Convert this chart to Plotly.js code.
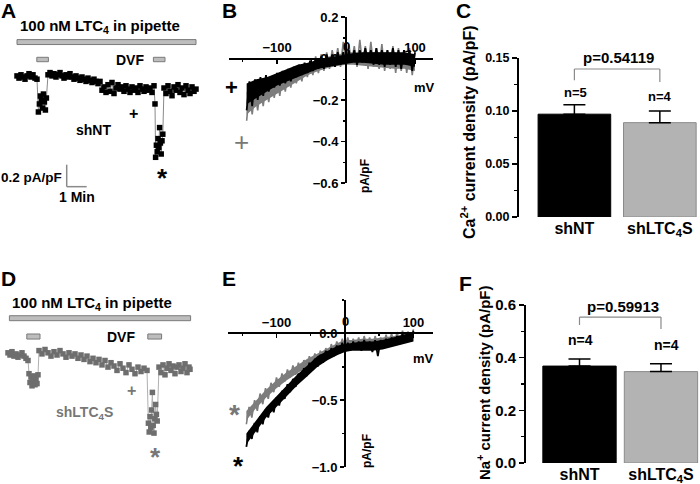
<!DOCTYPE html>
<html><head><meta charset="utf-8">
<script src="https://cdn.plot.ly/plotly-3.0.1.min.js"></script>
<style>html,body{margin:0;padding:0;background:#fff}#chart{width:700px;height:484px}</style>
</head><body><div id="chart"></div>
<script>
// ---------- Panel A (shNT time course; min, pA/pF) ----------
const aTime = [0.85,0.95,1.05,1.15,1.25,1.35,1.45,1.55,1.65,1.75,1.85,
  1.92,1.97,2.02,2.07,2.12,2.17,2.22,2.27,2.32,
  2.4,2.5,2.6,2.7,2.8,2.9,3.0,3.1,3.2,3.3,3.4,3.5,3.6,3.7,3.8,3.9,4.0,4.1,4.2,4.3,4.4,4.5,4.6,4.7,4.8,4.9,5.0,
  5.1,5.2,5.3,5.4,5.5,5.6,5.7,5.8,5.9,6.0,6.1,6.2,6.3,6.4,6.5,6.6,6.7,6.8,6.9,7.0,7.1,7.2,7.3,7.4,7.5,7.6,7.7,
  7.75,7.78,7.82,7.86,7.9,7.94,7.98,8.02,8.06,8.10,8.14,
  8.2,8.3,8.4,8.5,8.6,8.7,8.8,8.9,9.0,9.1,9.2,9.3,9.4,9.5,9.6,9.7,9.8];
const aCurrent = [-0.09,-0.11,-0.08,-0.10,-0.12,-0.09,-0.07,-0.10,-0.08,-0.11,-0.12,
  -0.418,-0.345,-0.273,-0.309,-0.382,-0.255,-0.327,-0.40,-0.291,
  -0.08,-0.06,-0.09,-0.07,-0.10,-0.08,-0.06,-0.09,-0.11,-0.08,-0.10,-0.07,-0.10,-0.12,-0.09,-0.11,-0.13,-0.10,-0.12,-0.14,-0.11,-0.13,-0.15,-0.12,-0.14,-0.16,-0.14,
  -0.22,-0.19,-0.24,-0.17,-0.23,-0.15,-0.25,-0.20,-0.17,-0.21,-0.19,-0.23,-0.18,-0.21,-0.24,-0.19,-0.22,-0.20,-0.24,-0.18,-0.21,-0.23,-0.19,-0.22,-0.20,-0.24,-0.18,
  -0.345,-0.83,-0.72,-0.78,-0.66,-0.74,-0.56,-0.70,-0.80,-0.68,-0.62,
  -0.20,-0.25,-0.18,-0.23,-0.27,-0.19,-0.22,-0.17,-0.24,-0.20,-0.26,-0.18,-0.22,-0.25,-0.19,-0.23,-0.21];

// ---------- Panel D (shLTC4S time course) ----------
const dTime = [0.4,0.5,0.6,0.7,0.8,0.9,1.0,1.1,1.2,1.3,1.4,
  1.45,1.5,1.55,1.6,1.65,1.7,1.75,1.8,1.85,1.9,
  1.95,2.1,2.25,2.4,2.55,2.7,2.85,3.0,3.15,3.3,3.45,3.6,3.75,3.9,4.05,4.2,4.35,4.5,4.65,4.8,4.95,5.1,5.25,5.4,5.55,5.7,5.85,6.0,6.15,6.3,6.45,6.6,6.75,6.9,7.05,7.2,7.35,
  7.42,7.46,7.5,7.54,7.58,7.62,7.66,7.7,7.74,7.78,7.82,7.86,
  7.95,8.05,8.15,8.25,8.35,8.45,8.55,8.65,8.75,8.85,8.95,9.05,9.15,9.25,9.35,9.45,9.5];
const dCurrent = [-0.08,-0.10,-0.07,-0.11,-0.09,-0.12,-0.10,-0.08,-0.11,-0.13,-0.15,
  -0.27,-0.35,-0.30,-0.38,-0.33,-0.29,-0.37,-0.32,-0.36,-0.28,
  -0.06,-0.09,-0.05,-0.08,-0.11,-0.07,-0.10,-0.06,-0.09,-0.12,-0.08,-0.11,-0.09,-0.13,-0.10,-0.14,-0.11,-0.16,-0.13,-0.17,-0.14,-0.19,-0.15,-0.21,-0.17,-0.20,-0.24,-0.18,-0.22,-0.26,-0.19,-0.23,-0.27,-0.21,-0.25,-0.22,-0.24,
  -0.72,-0.80,-0.66,-0.76,-0.60,-0.44,-0.74,-0.81,-0.68,-0.55,-0.64,-0.70,
  -0.21,-0.26,-0.19,-0.28,-0.22,-0.18,-0.24,-0.20,-0.27,-0.21,-0.19,-0.25,-0.22,-0.18,-0.26,-0.21,-0.23];

// application periods (min) for the stimulus bars
const ltc4SpanA = [0.85, 9.8], dvfSpansA = [[1.84, 2.42], [7.67, 8.25]];
const ltc4SpanD = [0.47, 9.53], dvfSpansD = [[1.34, 2.0], [7.39, 8.08]];

// ---------- Panels B and E (I-V; mV, pA/pF) ----------
const mV = [-144,-140,-136,-132,-128,-124,-120,-116,-112,-108,-104,-100,-96,-92,-88,-84,-80,-76,-72,-68,-64,-60,-56,-52,-48,-44,-40,-36,-32,-28,-24,-20,-16,-12,-8,-4,0,4,8,12,16,20,24,28,32,36,40,44,48,52,56,60,64,68,72,76,80,84,88,92,96,100];
const mVTicks = [-100, 100];
const bBlack = [-0.25,-0.11,-0.23,-0.10,-0.20,-0.09,-0.18,-0.08,-0.16,-0.09,-0.14,-0.07,-0.13,-0.06,-0.12,-0.05,-0.11,-0.04,-0.09,-0.03,-0.08,-0.02,-0.07,-0.01,-0.06,0.00,-0.05,0.01,-0.05,0.02,-0.04,0.02,-0.04,0.03,-0.03,0.03,-0.03,0.04,-0.02,0.04,-0.03,0.04,-0.02,0.05,-0.02,0.04,-0.03,0.05,-0.03,0.04,-0.04,0.04,-0.03,0.05,-0.04,0.04,-0.05,0.04,-0.03,0.04,-0.06,0.03];
const bGray = [-0.30,-0.15,-0.27,-0.16,-0.25,-0.13,-0.23,-0.12,-0.21,-0.11,-0.19,-0.09,-0.18,-0.08,-0.16,-0.06,-0.14,-0.05,-0.12,-0.04,-0.11,-0.03,-0.09,-0.02,-0.08,0.01,-0.07,0.02,-0.06,0.03,-0.05,0.04,-0.04,0.05,-0.04,0.08,-0.03,0.07,-0.02,0.06,-0.04,0.09,-0.03,0.06,-0.05,0.08,-0.04,0.05,-0.05,0.07,-0.06,0.04,-0.05,0.06,-0.07,0.05,-0.06,0.04,-0.07,0.05,-0.08,0.03];
const eBlack = [-0.85,-0.73,-0.79,-0.67,-0.74,-0.62,-0.68,-0.57,-0.63,-0.53,-0.59,-0.48,-0.54,-0.43,-0.49,-0.38,-0.44,-0.34,-0.40,-0.30,-0.35,-0.26,-0.32,-0.22,-0.28,-0.19,-0.25,-0.16,-0.22,-0.13,-0.19,-0.11,-0.17,-0.09,-0.15,-0.07,-0.14,-0.07,-0.13,-0.06,-0.12,-0.06,-0.13,-0.05,-0.12,-0.06,-0.14,-0.05,-0.17,-0.05,-0.11,-0.04,-0.10,-0.03,-0.09,-0.02,-0.08,0.00,-0.07,0.01,-0.06,0.02];
const eGray = [-0.68,-0.55,-0.63,-0.50,-0.58,-0.45,-0.53,-0.41,-0.49,-0.37,-0.44,-0.33,-0.40,-0.30,-0.36,-0.27,-0.33,-0.24,-0.31,-0.22,-0.28,-0.20,-0.26,-0.17,-0.24,-0.15,-0.21,-0.13,-0.19,-0.11,-0.17,-0.08,-0.15,-0.06,-0.13,-0.04,-0.12,-0.03,-0.11,-0.04,-0.10,-0.03,-0.11,-0.02,-0.10,-0.03,-0.12,-0.02,-0.10,-0.03,-0.09,-0.01,-0.08,0.00,-0.09,0.01,-0.07,0.02,-0.06,0.01,-0.05,0.03];
// solid core of each noisy band (lower / upper envelope)
const mVc = [-144,-130,-115,-100,-85,-70,-55,-40,-25,-10,0,10,25,40,55,70,85,100];
const bBlackLo = [-0.22,-0.19,-0.16,-0.13,-0.11,-0.09,-0.07,-0.05,-0.04,-0.03,-0.025,-0.02,-0.02,-0.025,-0.03,-0.03,-0.03,-0.04];
const bBlackHi = [-0.12,-0.10,-0.09,-0.07,-0.05,-0.03,-0.02,-0.005,0.005,0.015,0.02,0.025,0.03,0.03,0.03,0.03,0.03,0.02];
const bGrayLo = [-0.27,-0.23,-0.20,-0.17,-0.14,-0.11,-0.08,-0.06,-0.045,-0.035,-0.03,-0.03,-0.035,-0.04,-0.045,-0.05,-0.05,-0.06];
const bGrayHi = [-0.16,-0.14,-0.12,-0.10,-0.08,-0.05,-0.03,-0.01,0.01,0.02,0.03,0.03,0.03,0.03,0.03,0.03,0.02,0.01];
const eBlackLo = [-0.83,-0.73,-0.63,-0.55,-0.47,-0.39,-0.32,-0.25,-0.20,-0.16,-0.14,-0.13,-0.13,-0.13,-0.12,-0.10,-0.08,-0.06];
const eBlackHi = [-0.75,-0.65,-0.55,-0.47,-0.39,-0.31,-0.24,-0.17,-0.13,-0.09,-0.08,-0.07,-0.06,-0.06,-0.05,-0.03,-0.01,0.01];
const eGrayLo = [-0.65,-0.56,-0.48,-0.41,-0.35,-0.30,-0.25,-0.20,-0.16,-0.12,-0.10,-0.09,-0.09,-0.09,-0.08,-0.07,-0.06,-0.04];
const eGrayHi = [-0.58,-0.50,-0.42,-0.35,-0.29,-0.24,-0.19,-0.15,-0.11,-0.07,-0.05,-0.05,-0.04,-0.04,-0.03,-0.02,-0.01,0.01];

// ---------- Panels C and F (bars) ----------
const groups = ['shNT', 'shLTC<sub>4</sub>S'];
const caMean = [0.097, 0.089], caErr = [0.009, 0.011], caN = ['n=5', 'n=4'], caP = 'p=0.54119';
const naMean = [0.368, 0.347], naErr = [0.027, 0.030], naN = ['n=4', 'n=4'], naP = 'p=0.59913';

// ---------- layout helpers ----------
const W = 700, H = 484;
const FONT = 'Arial, "Liberation Sans", sans-serif';
const px = v => v / W, py = v => 1 - v / H;
function txt(text, x, y, size, opts) {
  return Object.assign({text, x: px(x), y: py(y), xref: 'paper', yref: 'paper', showarrow: false,
    xanchor: 'center', yanchor: 'middle',
    font: {family: FONT, size, color: '#000', weight: 'bold'}}, opts || {});
}
function grayFont(size, weight) { return {family: FONT, size, color: '#777', weight: weight || 'bold'}; }

function band(xs, lo, hi, color, xa, ya) {
  return [
    {x: xs, y: lo, xaxis: xa, yaxis: ya, mode: 'lines', type: 'scatter', line: {width: 0, color}, marker: {color, size: 1}},
    {x: xs, y: hi, xaxis: xa, yaxis: ya, mode: 'lines', type: 'scatter', fill: 'tonexty', fillcolor: color,
     line: {width: 0, color}, marker: {color, size: 1}}
  ];
}
function noisy(xs, ys, color, w, xa, ya) {
  return {x: xs, y: ys, xaxis: xa, yaxis: ya, mode: 'lines', type: 'scatter', line: {color, width: w}, marker: {color, size: 1}};
}

const traces = [
  {x: aTime, y: aCurrent, xaxis: 'x', yaxis: 'y', mode: 'lines+markers', type: 'scatter',
   line: {color: '#8a8a8a', width: 1}, marker: {symbol: 'square', size: 5.5, color: '#000'}},
  ...band(mVc, bGrayLo, bGrayHi, '#7d7d7d', 'x2', 'y2'),
  noisy(mV, bGray, '#7d7d7d', 1.6, 'x2', 'y2'),
  ...band(mVc, bBlackLo, bBlackHi, '#000', 'x2', 'y2'),
  noisy(mV, bBlack, '#000', 1.8, 'x2', 'y2'),
  {x: groups, y: caMean, xaxis: 'x3', yaxis: 'y3', type: 'bar', width: 0.85,
   marker: {color: ['#000', '#b3b3b3'], line: {color: ['#000', '#8a8a8a'], width: 1}},
   error_y: {type: 'data', symmetric: false, array: caErr, arrayminus: [0, 0], color: '#000', thickness: 1.5, width: 11}},
  {x: dTime, y: dCurrent, xaxis: 'x4', yaxis: 'y4', mode: 'lines+markers', type: 'scatter',
   line: {color: '#b0b0b0', width: 1}, marker: {symbol: 'square', size: 5.5, color: '#6e6e6e'}},
  ...band(mVc, eGrayLo, eGrayHi, '#7d7d7d', 'x5', 'y5'),
  noisy(mV, eGray, '#7d7d7d', 1.6, 'x5', 'y5'),
  ...band(mVc, eBlackLo, eBlackHi, '#000', 'x5', 'y5'),
  noisy(mV, eBlack, '#000', 1.8, 'x5', 'y5'),
  {x: groups, y: naMean, xaxis: 'x6', yaxis: 'y6', type: 'bar', width: 0.9,
   marker: {color: ['#000', '#b3b3b3'], line: {color: ['#000', '#8a8a8a'], width: 1}},
   error_y: {type: 'data', symmetric: false, array: naErr, arrayminus: [0, 0], color: '#000', thickness: 1.5, width: 11}}
];

const hidden = {visible: false, showgrid: false, zeroline: false};
const tickF = s => ({family: FONT, size: s, color: '#000', weight: 'bold'});
function ivX(domain, range, pos) {
  return {domain, range, anchor: 'free', position: pos, side: 'top', showgrid: false, zeroline: false,
    showline: true, linecolor: '#000', linewidth: 2, ticks: 'inside', ticklen: 4, tickwidth: 1.5, tickcolor: '#000',
    tickmode: 'array', tickvals: mVTicks, tickfont: tickF(13), layer: 'above traces',
    minor: {tickmode: 'linear', dtick: 50, tick0: 0, ticks: 'inside', ticklen: 2, tickcolor: '#000'}};
}
function ivY(domain, range, pos, dt, mdt) {
  return {domain, range, anchor: 'free', position: pos, showgrid: false, zeroline: false,
    showline: true, linecolor: '#000', linewidth: 2, ticks: 'outside', ticklen: 4, tickwidth: 1.5, tickcolor: '#000',
    dtick: dt, tick0: 0, tickformat: '.1f', tickfont: tickF(13), layer: 'above traces',
    minor: {dtick: mdt, ticks: 'outside', ticklen: 2, tickcolor: '#000'}};
}
function barY(domain, range, dt, fmt, fs, pos) {
  return {domain, range, anchor: 'free', position: pos, showgrid: false, zeroline: false,
    showline: true, linecolor: '#000', linewidth: 2, ticks: 'outside', ticklen: 5, tickwidth: 1.5, tickcolor: '#000',
    dtick: dt, tick0: 0, tickformat: fmt, tickfont: tickF(fs),
    minor: {dtick: dt / 2, ticks: 'outside', ticklen: 3, tickcolor: '#000'}};
}

const layout = {
  width: W, height: H, margin: {l: 0, r: 0, t: 0, b: 0}, paper_bgcolor: '#fff', plot_bgcolor: 'rgba(0,0,0,0)',
  showlegend: false, bargap: 0,
  xaxis: Object.assign({domain: [0, px(210)], range: [0, 10.5]}, hidden),
  yaxis: Object.assign({domain: [py(210), py(30)], range: [-1.3091, 0.3273]}, hidden),
  xaxis4: Object.assign({domain: [0, px(210)], range: [0, 10.5], anchor: 'y4'}, hidden),
  yaxis4: Object.assign({domain: [py(450), py(270)], range: [-0.9636, 0.6727], anchor: 'x4'}, hidden),
  xaxis2: ivX([px(229), px(433)], [-169.6, 126.1], py(58.5)),
  yaxis2: ivY([py(183), py(17)], [-0.6, 0.2], px(346), 0.2, 0.1),
  xaxis5: ivX([px(228), px(433)], [-170.8, 128.5], py(333.4)),
  yaxis5: ivY([py(467), py(300)], [-1.0, 0.25], px(345), 0.5, 0.25),
  xaxis3: {domain: [px(518), 1], range: [-0.66, 1.47], type: 'category', anchor: 'y3', showline: false, ticks: '',
    showgrid: false, zeroline: false, tickfont: tickF(16)},
  yaxis3: barY([py(217), py(58)], [0, 0.15], 0.05, '.2f', 12.5, px(518)),
  xaxis6: {domain: [px(525), 1], range: [-0.669, 1.479], type: 'category', anchor: 'y6', showline: false, ticks: '',
    showgrid: false, zeroline: false, tickfont: tickF(16)},
  yaxis6: barY([py(463), py(305)], [0, 0.6], 0.2, '.1f', 15, px(525)),
  shapes: [],
  annotations: []
};

const barFill = '#bdbdbd', barLine = '#7a7a7a';
function addBar(xref, yref, x0, x1, y0, y1) {
  layout.shapes.push({type: 'rect', xref, yref, x0, x1, y0, y1, fillcolor: barFill, line: {color: barLine, width: 1}});
}
addBar('x', 'y', ltc4SpanA[0], ltc4SpanA[1], 0.195, 0.24);
dvfSpansA.forEach(s => addBar('x', 'y', s[0], s[1], 0.039, 0.079));
addBar('x4', 'y4', ltc4SpanD[0], ltc4SpanD[1], 0.212, 0.257);
dvfSpansD.forEach(s => addBar('x4', 'y4', s[0], s[1], 0.045, 0.091));
// scale bar: 0.2 pA/pF, 1 min
const sb = {color: '#8a8a8a', width: 1.5};
layout.shapes.push({type: 'line', xref: 'x', yref: 'y', x0: 3.335, x1: 3.335, y0: -1.097, y1: -0.897, line: sb});
layout.shapes.push({type: 'line', xref: 'x', yref: 'y', x0: 3.335, x1: 4.335, y0: -1.097, y1: -1.097, line: sb});
// significance brackets
function bracket(xr, yr, yl, yTop, yr2) {
  const ln = {color: '#8a8a8a', width: 1.2};
  layout.shapes.push({type: 'line', xref: xr, yref: yr, x0: groups[0], x1: groups[0], y0: yl, y1: yTop, line: ln});
  layout.shapes.push({type: 'line', xref: xr, yref: yr, x0: groups[0], x1: groups[1], y0: yTop, y1: yTop, line: ln});
  layout.shapes.push({type: 'line', xref: xr, yref: yr, x0: groups[1], x1: groups[1], y0: yr2, y1: yTop, line: ln});
}
bracket('x3', 'y3', 0.129, 0.1396, 0.1274);
bracket('x6', 'y6', 0.524, 0.554, 0.509);

const A = layout.annotations;
// panel letters
[['A', 8, 11], ['B', 229, 11], ['C', 464, 11], ['D', 8, 278], ['E', 229, 278], ['F', 465, 283]]
  .forEach(l => A.push(txt(l[0], l[1], l[2], 21)));
// panel A
A.push(txt('100 nM LTC<sub>4</sub> in pipette', 99.5, 27, 15));
A.push(txt('DVF', 130, 60, 14));
A.push(txt('shNT', 93, 130, 14));
A.push(txt('+', 133, 113, 16));
A.push(txt('*', 162, 178, 26));
A.push(txt('0.2 pA/pF', 64, 177, 13.5, {xanchor: 'right'}));
A.push(txt('1 Min', 77, 197, 14));
// panel D
A.push(txt('100 nM LTC<sub>4</sub> in pipette', 91.5, 303, 15));
A.push(txt('DVF', 121, 337, 14));
A.push(txt('+', 131, 390, 16, {font: grayFont(16)}));
A.push(txt('shLTC<sub>4</sub>S', 84, 413, 14, {font: grayFont(14)}));
A.push(txt('*', 155, 457, 26, {font: grayFont(26)}));
// panel B
A.push(txt('0', 346, 47, 13));
A.push(txt('+', 231, 87, 22));
A.push(txt('+', 241, 142, 26, {font: grayFont(26, 'normal')}));
A.push(txt('mV', 425, 87, 13));
A.push(txt('pA/pF', 365, 176, 12, {textangle: -90}));
// panel E
A.push(txt('0', 345, 321, 13));
A.push(txt('*', 234, 414, 28, {font: grayFont(28)}));
A.push(txt('*', 238, 483, 26, {yanchor: 'bottom'}));
A.push(txt('mV', 423, 358, 13));
A.push(txt('pA/pF', 367, 451, 12, {textangle: -90}));
// panel C
A.push(txt(caP, 618, 57, 15));
A.push(txt(caN[0], 575, 92, 13));
A.push(txt(caN[1], 660, 97, 13));
A.push(txt('Ca<sup>2+</sup> current density (pA/pF)', 468, 132, 16, {textangle: -90}));
// panel F
A.push(txt(naP, 623, 306, 15));
A.push(txt(naN[0], 580, 340, 14));
A.push(txt(naN[1], 666, 345, 14));
A.push(txt('Na<sup>+</sup> current density (pA/pF)', 483, 382, 15, {textangle: -90}));

Plotly.newPlot('chart', traces, layout, {staticPlot: true, displayModeBar: false});
</script></body></html>
